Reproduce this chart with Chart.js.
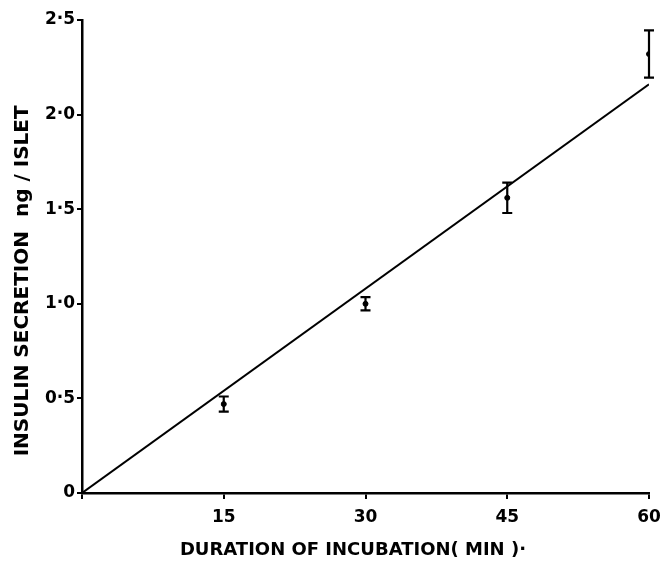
<!DOCTYPE html>
<html>
<head>
<meta charset="utf-8">
<script src="https://cdn.jsdelivr.net/npm/chart.js@4.4.1/dist/chart.umd.min.js"></script>
<style>
  html, body { margin: 0; padding: 0; background: #fff; }
  #wrap { width: 662px; height: 565px; }
</style>
</head>
<body>
<div id="wrap"><canvas id="insulina"></canvas></div>
<script>
// datos
const duracion = [15, 30, 45, 60];
const secrecion = [0.47, 1.00, 1.56, 2.32];
const errorSec = [0.04, 0.035, 0.08, 0.125];

// recta de regresion
const rectaX = [0, 60];
const rectaY = [0, 2.16];

const ticksX = [0, 15, 30, 45, 60];
const etiquetasX = ['', '15', '30', '45', '60'];
const ticksY = [0, 0.5, 1.0, 1.5, 2.0, 2.5];
const etiquetasY = ['0', '0·5', '1·0', '1·5', '2·0', '2·5'];

const fuente = 'DejaVu Sans';

// barras de error
const barrasError = {
  id: 'barrasError',
  afterDatasetsDraw(chart) {
    const ctx = chart.ctx;
    const x = chart.scales.x;
    const y = chart.scales.y;
    ctx.save();
    ctx.strokeStyle = '#000';
    ctx.fillStyle = '#000';
    ctx.lineWidth = 2.2;
    duracion.forEach((d, i) => {
      const px = x.getPixelForValue(d);
      const top = y.getPixelForValue(secrecion[i] + errorSec[i]);
      const bot = y.getPixelForValue(secrecion[i] - errorSec[i]);
      ctx.beginPath();
      ctx.moveTo(px, top); ctx.lineTo(px, bot);
      ctx.moveTo(px - 5, top); ctx.lineTo(px + 5, top);
      ctx.moveTo(px - 5, bot); ctx.lineTo(px + 5, bot);
      ctx.stroke();
    });
    ctx.restore();
  }
};

const ctx = document.getElementById('insulina').getContext('2d');

const data = {
  datasets: [
    {
      type: 'line',
      data: rectaX.map((v, i) => ({ x: v, y: rectaY[i] })),
      borderColor: '#000',
      borderWidth: 2,
      pointRadius: 0,
      fill: false
    },
    {
      type: 'scatter',
      data: duracion.map((v, i) => ({ x: v, y: secrecion[i] })),
      backgroundColor: '#000',
      borderColor: '#000',
      pointRadius: 2.5
    }
  ]
};

const config = {
  type: 'scatter',
  data: data,
  options: {
    responsive: true,
    maintainAspectRatio: false,
    animation: false,
    layout: { padding: { top: 20, right: 13, left: 0, bottom: 0 } },
    plugins: { legend: { display: false }, tooltip: { enabled: false } },
    scales: {
      x: {
        type: 'linear',
        min: 0, max: 60,
        afterBuildTicks: (s) => { s.ticks = ticksX.map(v => ({ value: v })); },
        afterFit: (s) => { s.height = 72; s.paddingRight = 0; s.paddingLeft = 0; },
        border: { display: true, color: '#000', width: 2.5 },
        grid: { drawOnChartArea: false, color: '#000', lineWidth: 2, tickLength: 6 },
        ticks: {
          color: '#000',
          padding: 8,
          font: { family: fuente, size: 17, weight: 'bold' },
          callback: (v) => etiquetasX[ticksX.indexOf(v)]
        },
        title: {
          display: true,
          text: 'DURATION OF INCUBATION( MIN )·\u00a0\u00a0\u00a0\u00a0',
          color: '#000',
          padding: { top: 6 },
          font: { family: fuente, size: 18, weight: 'bold' }
        }
      },
      y: {
        type: 'linear',
        min: 0, max: 2.5,
        afterBuildTicks: (s) => { s.ticks = ticksY.map(v => ({ value: v })); },
        afterFit: (s) => { s.width = 82; s.paddingTop = 0; s.paddingBottom = 0; },
        border: { display: true, color: '#000', width: 2.5 },
        grid: { drawOnChartArea: false, color: '#000', lineWidth: 2, tickLength: 5 },
        ticks: {
          color: '#000',
          padding: 2,
          font: { family: fuente, size: 17, weight: 'bold' },
          callback: (v) => etiquetasY[ticksY.indexOf(v)]
        },
        title: {
          display: true,
          text: 'INSULIN SECRETION  ng / ISLET' + '\u00a0'.repeat(7),
          color: '#000',
          padding: { top: 11, bottom: 0 },
          font: { family: fuente, size: 20, weight: 'bold' }
        }
      }
    }
  },
  plugins: [barrasError]
};

const miGrafico = new Chart(ctx, config);
</script>
</body>
</html>
